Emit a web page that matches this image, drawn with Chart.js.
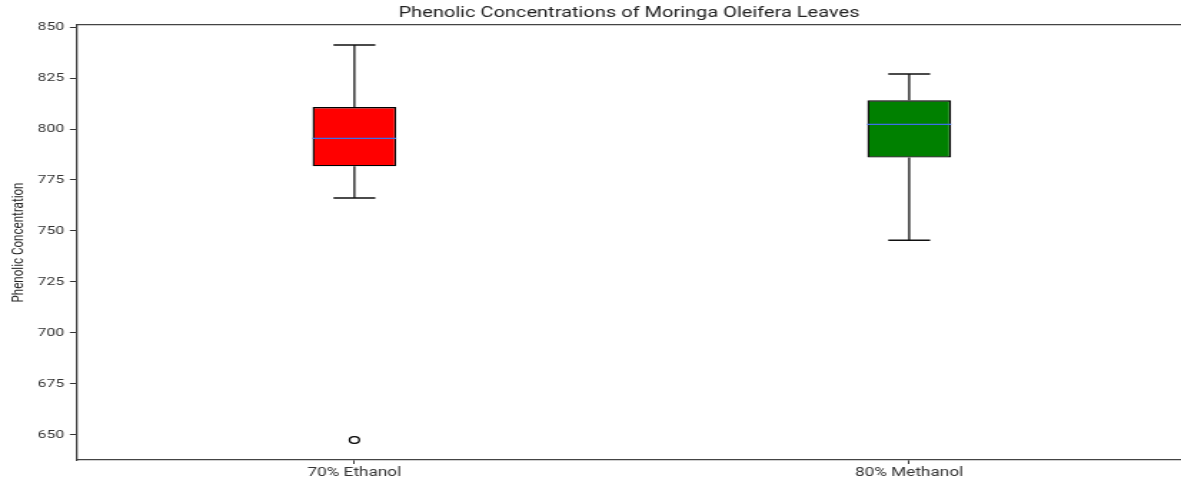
<!DOCTYPE html>
<html><head><meta charset="utf-8">
<script src="https://cdn.jsdelivr.net/npm/chart.js@4.4.0/dist/chart.umd.min.js"></script>
<style>html,body{margin:0;padding:0;background:#fff;overflow:hidden}</style>
</head><body>
<canvas id="c" width="826" height="482" style="display:block;width:1181px;height:482px"></canvas>
<script>
// ---- data ----
const categories = ['70% Ethanol', '80% Methanol'];
const positions = [1, 2];
const whiskerLow = [766.2, 745.4];
const q1 = [781.7, 786.0];
const medians = [795.4, 802.3];
const q3 = [810.8, 814.1];
const whiskerHigh = [841.2, 827.0];
const outliers = [[647.5], []];
const yTicks = [650, 675, 700, 725, 750, 775, 800, 825, 850];
const boxColors = ['#ff0000', '#008000'];

const BOX_W = 0.151;        // box width in x units
const CAP_W = BOX_W / 2;    // whisker cap width
const SX = 1181 / 826;      // horizontal display stretch

const boxData = positions.map((p, i) => ({x: p, y: [q1[i], q3[i]]}));
const medianData = [], whiskerData = [], capData = [], outlierData = [];
positions.forEach((p, i) => {
  medianData.push({x: p - BOX_W / 2, y: medians[i]}, {x: p + BOX_W / 2, y: medians[i]}, {x: p, y: null});
  whiskerData.push({x: p, y: q3[i]}, {x: p, y: whiskerHigh[i]}, {x: p, y: null},
                   {x: p, y: q1[i]}, {x: p, y: whiskerLow[i]}, {x: p, y: null});
  capData.push({x: p - CAP_W / 2, y: whiskerHigh[i]}, {x: p + CAP_W / 2, y: whiskerHigh[i]}, {x: p, y: null},
               {x: p - CAP_W / 2, y: whiskerLow[i]}, {x: p + CAP_W / 2, y: whiskerLow[i]}, {x: p, y: null});
  outliers[i].forEach(v => outlierData.push({x: p, y: v}));
});

const FONT = 'Roboto, "Liberation Sans", Arial, sans-serif';
const LINE = {type: 'line', pointRadius: 0, pointHoverRadius: 0, fill: false, spanGaps: false, tension: 0};

new Chart(document.getElementById('c'), {
  type: 'bar',
  data: {
    datasets: [
      {...LINE, label: 'median', data: medianData, borderColor: '#3d6ee8', borderWidth: 1.3, order: 0},
      {...LINE, label: 'whiskers', data: whiskerData, borderColor: '#111', borderWidth: 1.3, order: 1},
      {...LINE, label: 'caps', data: capData, borderColor: '#111', borderWidth: 1.5, order: 1},
      {type: 'scatter', label: 'outliers', data: outlierData, pointStyle: 'circle', pointRadius: 3.4,
       borderColor: '#000', backgroundColor: 'rgba(0,0,0,0)', borderWidth: 1.3, order: 0},
      {type: 'bar', label: 'boxes', data: boxData, backgroundColor: boxColors, borderColor: '#000',
       borderWidth: 1.4, borderSkipped: false, barPercentage: BOX_W, categoryPercentage: 1, order: 2}
    ]
  },
  options: {
    responsive: false,
    devicePixelRatio: 1,
    animation: false,
    events: [],
    layout: {padding: 0, autoPadding: false},
    plugins: {
      legend: {display: false},
      tooltip: {enabled: false},
      title: {
        display: true, fullSize: false,
        text: 'Phenolic Concentrations of Moringa Oleifera Leaves',
        color: '#222', font: {family: FONT, size: 14, weight: 'normal', lineHeight: 1.2},
        padding: {top: 5, bottom: 3.2}
      }
    },
    scales: {
      x: {
        type: 'linear', position: 'bottom', min: 0.5, max: 2.49, offset: false,
        afterBuildTicks: s => { s.ticks = positions.map(v => ({value: v})); },
        afterFit: s => { s.height = 22; },
        ticks: {callback: v => categories[positions.indexOf(v)], color: '#333',
                font: {family: FONT, size: 12}, padding: 1.5, maxRotation: 0, autoSkip: false},
        grid: {offset: false, drawOnChartArea: false, drawTicks: true, tickLength: 4, color: '#333', lineWidth: 1},
        border: {display: true, color: '#444', width: 1.3}
      },
      xTop: {
        type: 'linear', position: 'top', min: 0.5, max: 2.49, offset: false,
        afterFit: s => { s.height = 0; },
        ticks: {display: false},
        grid: {offset: false, drawOnChartArea: false, drawTicks: false, color: '#444'},
        border: {display: true, color: '#444', width: 1.3}
      },
      y: {
        type: 'linear', position: 'left', min: 637.7, max: 851,
        afterBuildTicks: s => { s.ticks = yTicks.map(v => ({value: v})); },
        afterFit: s => { s.width = 77 / SX; },
        ticks: {color: '#333', font: {family: FONT, size: 11}, padding: 4, includeBounds: false},
        grid: {drawOnChartArea: false, drawTicks: true, tickLength: 5, color: '#333', lineWidth: 1},
        border: {display: true, color: '#444', width: 1.3},
        title: {display: true, text: 'Phenolic Concentration', color: '#222',
                font: {family: FONT, size: 11.6, lineHeight: 1.2}, padding: {top: 6.4, bottom: 0}}
      }
    }
  }
});
</script>
</body></html>
